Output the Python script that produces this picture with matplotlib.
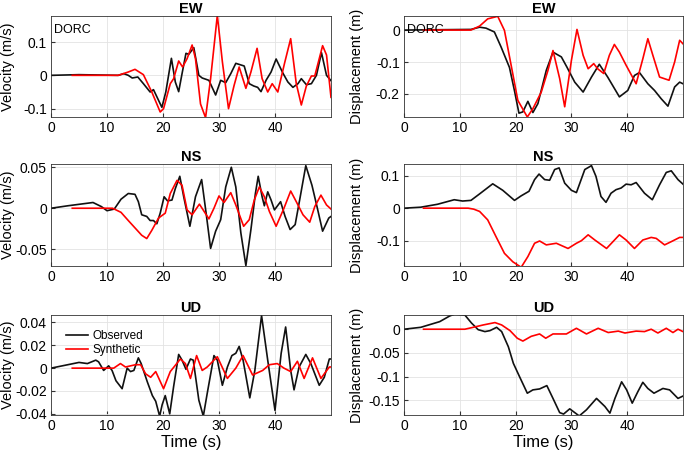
import matplotlib
matplotlib.use("Agg")
import matplotlib.pyplot as plt

plt.rcParams['font.family'] = ['Liberation Sans', 'DejaVu Sans']

# ---------------- data (time s, value) ----------------
ew_vel_obs_t = [0, 5, 12, 13, 13.8, 14.5, 15.5, 16.5, 17.7, 18.3, 19.8, 20.5, 21.5, 22.2, 22.8, 23.4, 24.1, 24.6, 25.5, 26.4, 27, 28.2, 29.4, 30.3, 31.2, 32.1, 33, 34.5, 35.4, 36.2, 36.9, 37.5, 38.4, 39.3, 40.2, 41.4, 42.3, 43.2, 44.1, 44.7, 45.6, 46.5, 47.4, 48.3, 49.2, 50]
ew_vel_obs_v = [0, 0.002, 0, 0.005, 0.0, -0.008, -0.005, -0.025, -0.05, -0.043, -0.096, -0.05, 0.051, -0.02, -0.049, 0.005, 0.066, 0.063, 0.083, 0.0, -0.008, -0.015, -0.059, -0.015, -0.022, 0.005, 0.036, 0.028, -0.025, -0.032, -0.036, -0.049, -0.015, 0.01, 0.049, 0.007, -0.02, -0.036, -0.025, -0.01, -0.028, -0.025, 0.0, 0.068, 0.0, -0.016]
ew_vel_syn_t = [3.8, 12, 13.8, 15, 16.5, 18, 19.5, 20.1, 21.3, 21.9, 22.8, 23.5, 24.3, 25.2, 25.8, 26.7, 27.6, 28.5, 29.7, 30.6, 31.7, 32.7, 33.6, 34.8, 35.7, 36.8, 37.7, 38.7, 39.5, 40.5, 41.7, 42.8, 43.8, 44.7, 45.6, 46.5, 47.1, 48.5, 49.2, 50]
ew_vel_syn_v = [0, 0, 0.01, 0.018, 0.002, -0.05, -0.11, -0.1, -0.025, -0.01, 0.043, 0.025, 0.05, 0.091, 0.05, -0.086, -0.127, -0.01, 0.18, 0.041, -0.1, -0.03, 0.025, -0.039, 0.01, 0.081, -0.01, -0.05, -0.025, -0.05, 0.036, 0.11, -0.025, -0.089, -0.032, -0.002, -0.002, 0.089, 0.061, -0.066]

ew_dis_obs_t = [0, 12, 13.55, 14.7, 16.2, 17.4, 18.9, 19.8, 20.6, 21.3, 22.2, 23.1, 24, 25.5, 26.7, 28.2, 29.2, 30.6, 32.1, 33.6, 35, 36.5, 38.6, 40.1, 41.3, 42.2, 43.7, 44.9, 46.1, 47.3, 48.5, 49.4, 50]
ew_dis_obs_v = [0, 0.002, 0.009, 0.006, -0.006, -0.053, -0.117, -0.19, -0.26, -0.256, -0.223, -0.258, -0.23, -0.126, -0.069, -0.084, -0.116, -0.163, -0.194, -0.147, -0.107, -0.147, -0.209, -0.189, -0.142, -0.133, -0.168, -0.189, -0.215, -0.238, -0.178, -0.163, -0.168]
ew_dis_syn_t = [3.5, 12, 13.55, 15, 16.8, 18, 19.2, 20.4, 22.1, 23.1, 24.6, 25.8, 26.7, 27.9, 28.8, 30, 31, 32.1, 33, 34, 34.7, 35.8, 36.8, 37.7, 38.6, 39.8, 41.6, 42.8, 43.7, 44.6, 45.8, 47.5, 48.5, 49.4, 50]
ew_dis_syn_v = [0, 0, 0.0125, 0.035, 0.043, -0.001, -0.11, -0.22, -0.272, -0.246, -0.194, -0.126, -0.064, -0.152, -0.24, -0.095, 0.002, -0.079, -0.121, -0.105, -0.121, -0.136, -0.079, -0.045, -0.069, -0.11, -0.168, -0.09, -0.027, -0.079, -0.147, -0.157, -0.1, -0.032, -0.043]

ns_vel_obs_t = [0, 3, 7.5, 9, 10, 11.3, 12.5, 13.8, 15, 15.6, 16.2, 17.1, 17.7, 18.3, 18.9, 19.5, 20.2, 20.8, 21.6, 22.2, 23, 23.7, 24.8, 25.8, 26.9, 27.7, 28.5, 29.4, 30.3, 31.2, 32.2, 33, 33.9, 34.8, 35.7, 36.5, 37, 37.7, 38.1, 38.7, 39.3, 39.9, 41, 41.8, 42.7, 43.6, 44.4, 45.5, 46.6, 47.5, 48.5, 49.6, 50]
ns_vel_obs_v = [0, 0.003, 0.007, 0.002, -0.003, -0.001, 0.011, 0.018, 0.017, 0.008, -0.008, -0.01, -0.015, -0.015, -0.019, -0.006, 0.014, 0.009, 0.010, 0.024, 0.039, 0.014, -0.022, 0.014, 0.035, -0.006, -0.049, -0.028, -0.014, 0.026, 0.05, 0.026, -0.03, -0.07, -0.026, 0.018, 0.039, 0.014, 0.003, 0.02, 0.010, -0.002, 0.008, -0.01, -0.026, -0.02, 0.010, 0.052, 0.028, 0.002, -0.028, -0.012, -0.01]
ns_vel_syn_t = [3.8, 11, 12.5, 13.8, 15, 16.2, 17.1, 18, 19.2, 20.4, 21.3, 22.5, 23.4, 24.3, 25.2, 26.5, 28.2, 29.1, 30, 30.9, 32.1, 33, 34.4, 35.4, 36.3, 37.2, 38.1, 39, 40.2, 41.6, 42.8, 43.8, 45, 46.2, 47.1, 48.2, 49.2, 50]
ns_vel_syn_v = [0, 0, -0.005, -0.015, -0.024, -0.033, -0.037, -0.027, -0.012, -0.006, 0.018, 0.034, 0.028, -0.002, -0.008, 0.005, -0.013, 0.0, 0.015, 0.007, 0.019, 0.004, -0.022, -0.014, 0.010, 0.026, 0.014, -0.004, -0.022, 0.0, 0.021, 0.008, -0.008, -0.017, 0.002, 0.016, 0.004, -0.001]

ns_dis_obs_t = [0, 3, 6, 9, 10.5, 12, 13.55, 15.9, 17.7, 19.8, 21, 22.4, 23.4, 24.2, 25.2, 26.1, 27, 27.8, 28.8, 30, 30.9, 32.4, 33.6, 34.4, 35.3, 36.2, 37.1, 38, 38.9, 39.8, 40.7, 41.6, 43.1, 44.5, 45.8, 47, 47.9, 49.1, 50]
ns_dis_obs_v = [0, 0.003, 0.012, 0.026, 0.022, 0.024, 0.044, 0.075, 0.055, 0.024, 0.038, 0.052, 0.088, 0.105, 0.088, 0.086, 0.119, 0.124, 0.077, 0.055, 0.048, 0.119, 0.131, 0.098, 0.036, 0.018, 0.046, 0.057, 0.062, 0.074, 0.072, 0.079, 0.046, 0.026, 0.072, 0.11, 0.115, 0.088, 0.074]
ns_dis_syn_t = [3.5, 11.5, 12.5, 13.55, 15, 16.5, 18, 19.5, 21, 22.2, 23.4, 24.3, 25.5, 27.3, 29.4, 30.9, 31.8, 33, 34.2, 36.3, 38.6, 39.8, 41.3, 42.8, 44.3, 45.2, 46.7, 47.9, 49.4, 50]
ns_dis_syn_v = [0, 0, -0.003, -0.01, -0.036, -0.088, -0.139, -0.165, -0.182, -0.149, -0.108, -0.101, -0.113, -0.108, -0.124, -0.108, -0.1, -0.082, -0.098, -0.124, -0.082, -0.098, -0.124, -0.098, -0.09, -0.093, -0.113, -0.103, -0.09, -0.09]

ud_vel_obs_t = [0, 3, 5, 6.5, 8, 8.5, 9.4, 10.3, 10.9, 11.6, 12.7, 13.6, 14.2, 14.8, 15.6, 16.1, 17.2, 18.1, 18.7, 19.4, 19.85, 20.4, 21.2, 21.9, 22.8, 23.4, 24.1, 24.9, 25.4, 26.4, 27.2, 27.9, 29.1, 29.7, 30.6, 31.5, 32.3, 33, 33.6, 34.3, 35.5, 36.4, 37.6, 38.7, 40, 41.1, 41.9, 42.8, 43.4, 44.3, 45.5, 46.4, 47.9, 48.8, 49.7, 50]
ud_vel_obs_v = [0, 0.003, 0.005, 0.004, 0.007, 0.0055, -0.002, 0.002, -0.002, -0.011, -0.018, 0.0, -0.003, -0.002, 0.009, 0.004, -0.012, -0.024, -0.029, -0.042, -0.032, -0.024, -0.040, -0.016, 0.012, 0.007, -0.001, 0.008, 0.007, -0.028, -0.042, -0.022, 0.011, 0.007, -0.015, 0.001, 0.011, 0.013, 0.019, 0.007, -0.026, -0.002, 0.046, 0.007, -0.037, 0.013, 0.036, -0.002, -0.019, 0.001, 0.012, 0.004, -0.015, -0.008, 0.008, 0.008]
ud_vel_syn_t = [3.8, 11.2, 12.4, 13.3, 15.1, 16, 16.9, 17.8, 18.7, 20.1, 21.3, 23.1, 24, 24.9, 26, 27, 27.9, 29.7, 31.5, 33, 34.3, 36, 37.8, 39, 40.4, 41.6, 42.8, 44, 45.2, 46.7, 48.2, 49.7, 50]
ud_vel_syn_v = [0, 0, 0.004, 0.001, 0.003, 0.003, -0.005, -0.008, -0.003, -0.018, -0.003, 0.008, 0.004, -0.009, 0.011, -0.002, 0.001, 0.010, -0.009, 0.0, 0.011, -0.006, -0.002, 0.003, 0.004, 0.0, -0.003, 0.006, -0.009, 0.009, -0.009, 0.001, 0.001]

ud_dis_obs_t = [0, 3, 6.4, 8.2, 9.1, 10.9, 12.1, 13.3, 14.5, 15.4, 16.6, 17.5, 18.7, 19.6, 20.7, 22.1, 23.1, 24.3, 25.6, 26.7, 27.9, 28.6, 29.7, 31.4, 32.7, 34.5, 36, 36.9, 37.8, 39, 39.9, 40.9, 41.9, 42.8, 43.7, 44.8, 46.4, 47.6, 49.1, 50]
ud_dis_obs_v = [0, 0.004, 0.016, 0.028, 0.032, 0.030, 0.013, -0.001, -0.005, -0.003, 0.004, -0.005, -0.037, -0.072, -0.1, -0.135, -0.128, -0.126, -0.119, -0.146, -0.176, -0.179, -0.168, -0.183, -0.17, -0.146, -0.163, -0.177, -0.146, -0.111, -0.128, -0.156, -0.132, -0.112, -0.125, -0.135, -0.125, -0.128, -0.146, -0.141]
ud_dis_syn_t = [3.5, 10.9, 12.4, 14.2, 16.3, 17.5, 19, 20.3, 21.3, 22.8, 24.3, 25.4, 26.7, 29.1, 30.9, 32.7, 34.8, 36.6, 38.4, 39.6, 41.6, 43.1, 44.3, 45.5, 47, 48.2, 49.1, 50]
ud_dis_syn_v = [0, 0, 0.004, 0.009, 0.014, 0.009, -0.003, -0.019, -0.025, -0.015, -0.01, -0.019, -0.01, -0.01, 0.002, -0.01, 0.002, -0.007, -0.004, -0.008, -0.004, -0.005, 0.0, -0.008, 0.002, -0.007, 0.0, -0.005]

titles = ['EW', 'NS', 'UD']
station = 'DORC'
legend_labels = ['Observed', 'Synthetic']

# ---------------- figure ----------------
fig = plt.figure(figsize=(6.85, 4.55), dpi=100)
W, H = 685, 455

def add_ax(left, top, right, bottom):
    return fig.add_axes([left / W, (H - bottom) / H, (right - left) / W, (bottom - top) / H])

rows = [(16, 117), (164, 266), (315, 415)]
cols = [(51, 331), (404, 683)]

panels = [
    [(ew_vel_obs_t, ew_vel_obs_v, ew_vel_syn_t, ew_vel_syn_v, (-0.125, 0.178), [-0.1, 0, 0.1], ['-0.1', '0', '0.1']),
     (ew_dis_obs_t, ew_dis_obs_v, ew_dis_syn_t, ew_dis_syn_v, (-0.272, 0.044), [-0.2, -0.1, 0], ['-0.2', '-0.1', '0'])],
    [(ns_vel_obs_t, ns_vel_obs_v, ns_vel_syn_t, ns_vel_syn_v, (-0.0705, 0.054), [-0.05, 0, 0.05], ['-0.05', '0', '0.05']),
     (ns_dis_obs_t, ns_dis_obs_v, ns_dis_syn_t, ns_dis_syn_v, (-0.178, 0.136), [-0.1, 0, 0.1], ['-0.1', '0', '0.1'])],
    [(ud_vel_obs_t, ud_vel_obs_v, ud_vel_syn_t, ud_vel_syn_v, (-0.041, 0.0465), [-0.04, -0.02, 0, 0.02, 0.04], ['-0.04', '-0.02', '0', '0.02', '0.04']),
     (ud_dis_obs_t, ud_dis_obs_v, ud_dis_syn_t, ud_dis_syn_v, (-0.181, 0.030), [-0.15, -0.1, -0.05, 0], ['-0.15', '-0.1', '-0.05', '0'])],
]

for r, (top, bottom) in enumerate(rows):
    for c, (left, right) in enumerate(cols):
        ot, ov, st, sv, ylim, yt, ytl = panels[r][c]
        ax = add_ax(left, top, right, bottom)
        l1, = ax.plot(ot, ov, color='#111111', lw=1.2, label=legend_labels[0])
        l2, = ax.plot(st, sv, color='#ff0000', lw=1.2, label=legend_labels[1])
        ax.set_xlim(0, 50)
        ax.set_ylim(*ylim)
        ax.set_xticks([0, 10, 20, 30, 40])
        ax.set_yticks(yt)
        ax.set_yticklabels(ytl)
        ax.grid(True, color='#e3e3e3', lw=0.6)
        ax.set_axisbelow(True)
        ax.tick_params(direction='in', length=3, labelsize=10, color='#333333', pad=3)
        for s in ax.spines.values():
            s.set_color('#333333')
            s.set_linewidth(0.6)
        ax.set_title(titles[r], fontsize=10.5, fontweight='bold', pad=2)
        if c == 0:
            ax.set_ylabel('Velocity (m/s)', fontsize=10.5)
            ax.yaxis.set_label_coords(-0.128, 0.5)
        else:
            ax.set_ylabel('Displacement (m)', fontsize=10.5)
            ax.yaxis.set_label_coords(-0.145, 0.5)
        if r == 0:
            ax.text(0.012, 0.86, station, transform=ax.transAxes, fontsize=9, va='center', ha='left')
        if r == 2:
            ax.set_xlabel('Time (s)', fontsize=12, labelpad=1)
        if r == 2 and c == 0:
            ax.legend(handles=[l1, l2], loc='upper left', bbox_to_anchor=(0.035, 0.9), frameon=False,
                      fontsize=8.5, handlelength=1.9, handletextpad=0.35, labelspacing=0.2, borderaxespad=0)

fig.savefig('out.png', dpi=100)
